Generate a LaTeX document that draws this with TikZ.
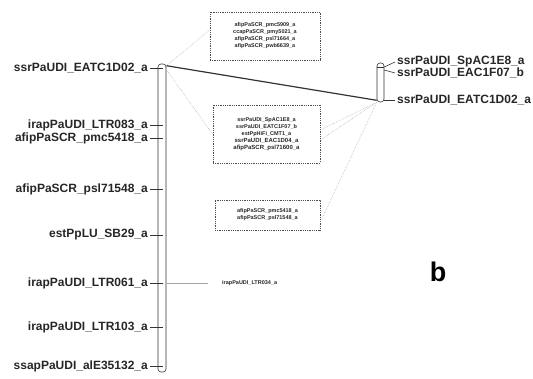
\documentclass[tikz,border=0pt]{standalone}
\usepackage{fontspec}
\setmainfont{Liberation Sans}
\begin{document}
\begin{tikzpicture}[x=1pt,y=-1pt,
  lbl/.style={font=\fontsize{12}{12}\selectfont\bfseries, inner sep=0pt, text=black!85},
  tinytxt/.style={font=\fontsize{5.5}{7}\selectfont\bfseries, align=center, inner sep=0pt, text=black!85},
  grp/.style={draw=black!70, densely dotted, line width=0.8pt, inner sep=0pt},
  chrom/.style={draw=black!80, line width=0.6pt, rounded corners=3pt, minimum width=8pt, inner sep=0pt},
  tickln/.style={draw=black!80, line width=0.6pt},
  link/.style={draw=gray!55, line width=0.6pt, densely dotted},
  mainlink/.style={draw=black!80, line width=1.2pt}]
\useasboundingbox (0,0) rectangle (533,379);

% left linkage group
\node[chrom, minimum height=308pt] (LG) at (162,218) {};
\node[lbl, anchor=east] (m1) at (148,68)  {ssrPaUDI\_EATC1D02\_a};
\node[lbl, anchor=east] (m2) at (148,125) {irapPaUDI\_LTR083\_a};
\node[lbl, anchor=east] (m3) at (148,138) {afipPaSCR\_pmc5418\_a};
\node[lbl, anchor=east] (m4) at (148,189) {afipPaSCR\_psl71548\_a};
\node[lbl, anchor=east] (m5) at (148,235) {estPpLU\_SB29\_a};
\node[lbl, anchor=east] (m6) at (148,283) {irapPaUDI\_LTR061\_a};
\node[lbl, anchor=east] (m7) at (148,327) {irapPaUDI\_LTR103\_a};
\node[lbl, anchor=east] (m8) at (148,366) {ssapPaUDI\_alE35132\_a};
\foreach \m in {m1,m2,m3,m4,m5,m6,m7,m8}
  \draw[tickln] ([xshift=2pt]\m.east) -- ([xshift=-3pt]\m.east -| LG.east);

% right linkage group
\node[chrom, minimum height=39pt, minimum width=7pt] (RG) at (380.5,82.5) {};
\node[lbl, anchor=west] (r1) at (397,62)  {ssrPaUDI\_SpAC1E8\_a};
\node[lbl, anchor=west] (r2) at (397,73)  {ssrPaUDI\_EAC1F07\_b};
\node[lbl, anchor=west] (r3) at (397,100) {ssrPaUDI\_EATC1D02\_a};
\draw[tickln] (RG.east |- 0,67) -- ([xshift=-2pt]r1.west);
\draw[tickln] (RG.east |- 0,70) -- ([xshift=-2pt]r2.west);
\draw[tickln] (RG.east |- r3.west) -- ([xshift=-2pt]r3.west);
\draw[tickln] (RG.west |- 0,67) -- (RG.east |- 0,67);

% groups of markers
\node[grp, minimum width=110pt, minimum height=48pt, tinytxt] (top) at (265,36)
  {afipPaSCR\_pmc5909\_a\\ccapPaSCR\_pmy5021\_a\\afipPaSCR\_psl71664\_a\\afipPaSCR\_pwb6639\_a};
\node[grp, minimum width=107pt, minimum height=58pt, tinytxt] (mid) at (266.5,134)
  {ssrPaUDI\_SpAC1E8\_a\\ssrPaUDI\_EATC1F07\_b\\estPpHiFi\_CMT1\_a\\{\fontsize{6}{7}\selectfont ssrPaUDI\_EAC1D04\_a}\\{\fontsize{6}{7}\selectfont afipPaSCR\_psl71600\_a}};
\node[grp, minimum width=105pt, minimum height=30pt, tinytxt] (bot) at (267.5,215)
  {afipPaSCR\_pmc5418\_a\\afipPaSCR\_psl71548\_a};
\node[tinytxt, anchor=west] (ltr) at (222,283) {irapPaUDI\_LTR034\_a};

% connectors
\draw[mainlink] ([yshift=-2pt]LG.north east) -- ([yshift=2pt]RG.south west);
\draw[link] ([yshift=-2pt]LG.north east) -- ([yshift=6pt]top.west);
\draw[link] ([yshift=-6pt]LG.north east) -- (mid.west);
\draw[link] (RG.south west) -- ([yshift=4pt]mid.east);
\draw[link] (RG.south west) -- ([yshift=-6pt]mid.east);
\draw[link] (RG.south west) -- ([yshift=-7pt]bot.east);
\draw[draw=gray!70, line width=0.6pt] (m6.east -| LG.east) -- ([xshift=-14pt]ltr.west);

\node[font=\fontsize{27}{27}\selectfont\bfseries] (blabel) at (438,272) {b};
\end{tikzpicture}
\end{document}
